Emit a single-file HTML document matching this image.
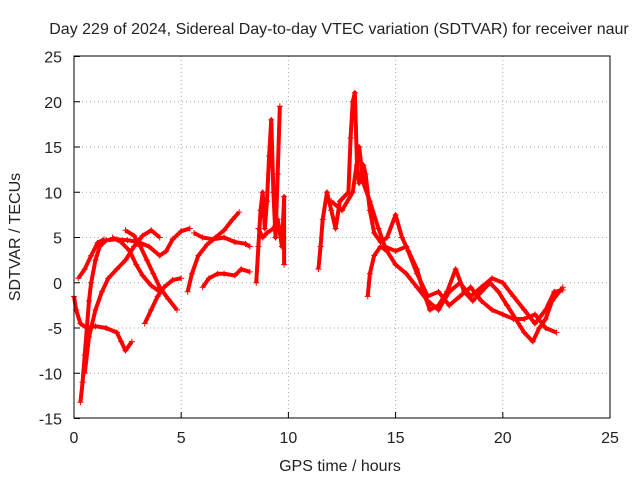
<!DOCTYPE html>
<html><head><meta charset="utf-8"><style>
body{margin:0;background:#fff}
svg text{font-family:"Liberation Sans",sans-serif;font-size:16px;fill:#222}
</style></head><body>
<svg id="c" width="640" height="480" xmlns="http://www.w3.org/2000/svg">
<text x="339" y="34" text-anchor="middle">Day 229 of 2024, Sidereal Day-to-day VTEC variation (SDTVAR) for receiver naur</text>
<text x="340" y="471" text-anchor="middle">GPS time / hours</text>
<text transform="translate(20,237) rotate(-90)" text-anchor="middle">SDTVAR / TECUs</text>
<g id="grid"></g><g id="marks"></g>
<rect x="74" y="56" width="536" height="362" fill="none" stroke="#000"/>
</svg>
<script>
const xTicks=[0,5,10,15,20,25];
const yTicks=[-15,-10,-5,0,5,10,15,20,25];
const tracks=[
[[0.3,-13.2],[0.4,-11],[0.5,-8],[0.6,-5],[0.7,-2],[0.8,0],[1,2.5],[1.2,4],[1.5,4.7],[2,4.8],[2.5,4.7],[3,4.5],[3.5,4],[4,3],[4.3,3.5],[4.6,4.8],[5,5.7],[5.4,6]],
[[0,-1.5],[0.1,-3],[0.3,-4.5],[0.6,-5],[1,-4.8],[1.5,-5],[2,-5.5],[2.2,-6.5],[2.4,-7.5],[2.7,-6.5]],
[[0.2,0.5],[0.5,1.5],[0.8,3],[1.1,4.4],[1.4,4.8]],
[[0.5,-10],[0.7,-6],[1,-3],[1.3,-1],[1.6,0.5],[2,1.5],[2.4,2.5],[2.8,4],[3.2,5.2],[3.6,5.8],[4,5]],
[[2.4,5.8],[2.8,5.2],[3.1,4],[3.4,2.5],[3.7,1],[4,-0.5],[4.4,-1.8],[4.8,-3]],
[[3.3,-4.5],[3.6,-3],[3.9,-1.5],[4.2,-0.5],[4.6,0.3],[5,0.5]],
[[1.8,5],[2.2,4.5],[2.6,3.5],[2.9,2],[3.2,0.8],[3.6,-0.3],[4,-1]],
[[5.3,-1],[5.5,1],[5.8,3],[6.2,4.2],[6.6,5],[7,5.8],[7.4,7],[7.7,7.8]],
[[5.6,5.5],[6,5],[6.5,4.8],[7,5],[7.5,4.5],[8,4.3],[8.2,4]],
[[6,-0.5],[6.3,0.5],[6.7,1],[7,1],[7.5,0.8],[7.8,1.5],[8.2,1.2]],
[[8.5,0],[8.6,4],[8.7,8],[8.8,10],[8.9,6],[9,9],[9.1,14],[9.2,18],[9.3,10],[9.4,5],[9.5,12],[9.6,19.5]],
[[8.6,6],[8.8,5],[9,5.5],[9.3,6],[9.5,7],[9.7,4],[9.8,9.5],[9.8,2]],
[[11.4,1.5],[11.5,4],[11.6,7],[11.8,10],[12,8],[12.2,6],[12.4,9],[12.6,9.5],[12.8,10],[12.9,16],[13,20],[13.1,21],[13.2,13],[13.3,11],[13.5,13],[13.6,12],[13.8,8],[14,5.5],[14.3,4.5],[14.6,5],[15,7.5],[15.3,5],[15.6,3.5],[16,1.5],[16.3,-1],[16.6,-3],[17,-2.5],[17.4,-1],[17.8,1.5],[18.2,-1],[18.6,-2],[19,-1],[19.4,0],[19.8,-1],[20.2,-2.5],[20.6,-4],[21,-5.5],[21.4,-6.5],[21.7,-5],[22,-4],[22.3,-2],[22.8,-0.5]],
[[12,9],[12.5,8],[13,10],[13.3,15],[13.5,11],[13.8,9],[14.2,6],[14.5,4],[15,3.5],[15.5,4],[16,1],[16.5,-1.5],[17,-1],[17.5,-2.5],[18,-1.5],[18.5,-0.5],[19,-2],[19.5,-3],[20,-3.5],[20.5,-4],[21,-4],[21.5,-3.5],[22,-5],[22.5,-5.5]],
[[13.7,-1.5],[13.8,1],[14,3],[14.3,4],[14.6,3.5],[15,2],[15.5,1],[16,-0.5],[16.5,-2],[17,-3],[17.5,-1],[18,0],[18.5,-1.5],[19,-0.5],[19.5,0.5],[20,0],[20.5,-1.5],[21,-3],[21.5,-4.5],[22,-3],[22.4,-1],[22.8,-0.8]]
];
const X=v=>74+v*536/25, Y=v=>282.75-v*362/40;
const ns="http://www.w3.org/2000/svg", c=document.getElementById('c');
const g=document.getElementById('grid'), m=document.getElementById('marks');
function mk(t,a,p){const e=document.createElementNS(ns,t);for(const k in a)e.setAttribute(k,a[k]);p.appendChild(e);return e;}
xTicks.forEach(v=>{
 if(v>0&&v<25){const l=mk('line',{x1:X(v),x2:X(v),y1:56,y2:418,stroke:'#aaa','stroke-dasharray':'1,3'},g);}
 const t=mk('line',{x1:X(v),x2:X(v),y1:418,y2:412,stroke:'#000'},g);
 const tx=mk('text',{x:X(v),y:443,'text-anchor':'middle'},g);tx.textContent=v;
});
yTicks.forEach(v=>{
 if(v>-15&&v<25){const l=mk('line',{x1:74,x2:610,y1:Y(v),y2:Y(v),stroke:'#aaa','stroke-dasharray':'1,3'},g);}
 const t=mk('line',{x1:74,x2:80,y1:Y(v),y2:Y(v),stroke:'#000'},g);
 const tx=mk('text',{x:62,y:Y(v)+6,'text-anchor':'end'},g);tx.textContent=v;
});
tracks.forEach(tr=>{
 const pl=mk('polyline',{points:tr.map(p=>X(p[0])+','+Y(p[1])).join(' '),fill:'none',stroke:'#f00','stroke-width':4,'stroke-linejoin':'round'},m);
 
 
 tr.forEach(p=>{const x=X(p[0]),y=Y(p[1]);
  const pt=mk('path',{d:`M${x-3},${y}h6M${x},${y-3}v6`,stroke:'#f00','stroke-width':1},m);
  
  
 });
});
</script>
</body></html>
